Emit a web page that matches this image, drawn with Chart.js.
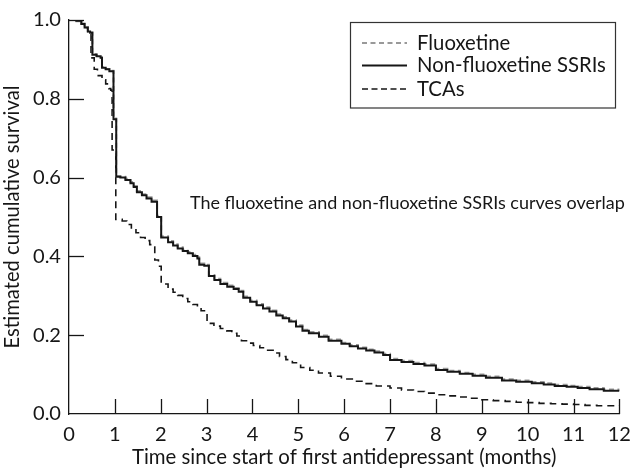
<!DOCTYPE html>
<html><head><meta charset="utf-8">
<script src="https://cdn.jsdelivr.net/npm/chart.js@4"></script>
<style>html,body{margin:0;padding:0;background:#fff;}canvas{display:block}</style>
</head><body>
<canvas id="c" width="640" height="472"></canvas>
<script>
const FAMILY = 'Lato, "Noto Sans", sans-serif';
const INK = '#161616';

const xTicks = [0,1,2,3,4,5,6,7,8,9,10,11,12];
const yTicks = [0.0,0.2,0.4,0.6,0.8,1.0];
const seriesNames = ['Fluoxetine','Non-fluoxetine SSRIs','TCAs'];
const xTitle = 'Time since start of first antidepressant (months)';
const yTitle = 'Estimated cumulative survival';
const noteText = 'The fluoxetine and non-fluoxetine SSRIs curves overlap';

// [months, survival]
const ssriSteps = [[0,1.0],[0.16,0.998],[0.27,0.990],[0.34,0.981],[0.41,0.971],[0.46,0.968],[0.51,0.912],[0.60,0.908],[0.69,0.904],[0.72,0.879],[0.80,0.875],[0.88,0.870],[0.97,0.748],[1.03,0.602],[1.12,0.600],[1.23,0.594],[1.34,0.586],[1.41,0.576],[1.48,0.563],[1.59,0.555],[1.69,0.547],[1.80,0.539],[1.92,0.500],[2.01,0.448],[2.16,0.436],[2.27,0.428],[2.37,0.420],[2.48,0.414],[2.59,0.408],[2.70,0.401],[2.80,0.395],[2.84,0.379],[2.95,0.376],[3.05,0.350],[3.17,0.340],[3.30,0.330],[3.45,0.323],[3.59,0.317],[3.70,0.310],[3.80,0.295],[3.95,0.285],[4.09,0.276],[4.23,0.268],[4.37,0.260],[4.52,0.250],[4.66,0.243],[4.80,0.235],[4.95,0.222],[5.09,0.211],[5.23,0.205],[5.45,0.196],[5.66,0.186],[5.94,0.178],[6.12,0.172],[6.30,0.166],[6.48,0.161],[6.66,0.156],[6.85,0.150],[7.00,0.137],[7.25,0.132],[7.51,0.127],[7.75,0.123],[8.00,0.112],[8.25,0.107],[8.52,0.102],[8.80,0.097],[9.09,0.092],[9.44,0.085],[9.75,0.082],[10.09,0.078],[10.35,0.075],[10.59,0.071],[10.85,0.069],[11.09,0.066],[11.35,0.063],[11.66,0.059],[12.00,0.058]];

const fluoxSteps = [[0,1.0],[0.16,0.997],[0.27,0.991],[0.34,0.982],[0.41,0.972],[0.46,0.969],[0.51,0.914],[0.60,0.910],[0.69,0.905],[0.72,0.881],[0.80,0.876],[0.88,0.871],[0.97,0.750],[1.03,0.604],[1.12,0.602],[1.23,0.597],[1.34,0.589],[1.41,0.579],[1.48,0.566],[1.59,0.558],[1.69,0.550],[1.80,0.542],[1.92,0.503],[2.01,0.451],[2.16,0.439],[2.27,0.431],[2.37,0.423],[2.48,0.417],[2.59,0.411],[2.70,0.404],[2.80,0.398],[2.84,0.382],[2.95,0.379],[3.05,0.353],[3.17,0.343],[3.30,0.333],[3.45,0.326],[3.59,0.320],[3.70,0.313],[3.80,0.298],[3.95,0.288],[4.09,0.279],[4.23,0.271],[4.37,0.263],[4.52,0.253],[4.66,0.246],[4.80,0.238],[4.95,0.225],[5.09,0.214],[5.23,0.208],[5.45,0.199],[5.66,0.189],[5.94,0.181],[6.12,0.175],[6.30,0.169],[6.48,0.164],[6.66,0.159],[6.85,0.153],[7.00,0.140],[7.25,0.135],[7.51,0.130],[7.75,0.126],[8.00,0.115],[8.25,0.110],[8.52,0.105],[8.80,0.100],[9.09,0.095],[9.44,0.088],[9.75,0.085],[10.09,0.081],[10.35,0.078],[10.59,0.074],[10.85,0.072],[11.09,0.069],[11.35,0.066],[11.66,0.062],[12.00,0.061]];

const tcaSteps = [[0,1.0],[0.16,0.998],[0.27,0.990],[0.34,0.981],[0.41,0.971],[0.48,0.904],[0.55,0.875],[0.62,0.859],[0.72,0.848],[0.80,0.838],[0.87,0.826],[0.91,0.822],[0.94,0.670],[1.02,0.494],[1.16,0.490],[1.26,0.481],[1.36,0.470],[1.46,0.460],[1.56,0.448],[1.66,0.440],[1.76,0.430],[1.84,0.424],[1.87,0.391],[1.95,0.375],[2.01,0.330],[2.16,0.317],[2.27,0.309],[2.37,0.301],[2.48,0.293],[2.59,0.285],[2.70,0.278],[2.80,0.272],[2.88,0.262],[3.01,0.230],[3.16,0.223],[3.30,0.217],[3.44,0.211],[3.55,0.205],[3.66,0.198],[3.76,0.186],[3.90,0.180],[4.02,0.174],[4.16,0.168],[4.30,0.162],[4.45,0.155],[4.59,0.146],[4.73,0.138],[4.87,0.130],[5.05,0.118],[5.25,0.111],[5.44,0.104],[5.70,0.096],[5.94,0.089],[6.20,0.083],[6.44,0.077],[6.70,0.071],[7.00,0.066],[7.25,0.061],[7.51,0.057],[7.75,0.053],[8.00,0.049],[8.25,0.046],[8.52,0.043],[8.75,0.040],[9.00,0.036],[9.25,0.034],[9.51,0.032],[9.75,0.030],[10.00,0.029],[10.25,0.027],[10.51,0.026],[10.75,0.025],[11.00,0.024],[11.25,0.022],[11.51,0.021],[11.75,0.021],[12.00,0.020]];

const mctx = document.createElement('canvas').getContext('2d');
function fitSize(text, target){ mctx.font = '100px ' + FAMILY; return 100 * target / mctx.measureText(text).width; }

const tickSize = fitSize('0.0', 28);
const xTitleSize = fitSize(xTitle, 425);
const yTitleSize = fitSize(yTitle, 263);
const noteSize = fitSize(noteText, 435);
const legendSize = fitSize(seriesNames[1], 189);

const toPts = a => a.map(p => ({x: p[0], y: p[1]}));

const inwardTicks = {
  id: 'inwardTicks',
  afterDraw(chart){
    const {ctx, scales:{x, y}} = chart;
    ctx.save();
    ctx.strokeStyle = INK; ctx.lineWidth = 1.3;
    xTicks.forEach(v => { if (v === 0) return; const px = Math.round(x.getPixelForValue(v)) + 0.5;
      ctx.beginPath(); ctx.moveTo(px, y.bottom); ctx.lineTo(px, y.bottom - 15); ctx.stroke(); });
    yTicks.forEach(v => { if (v === 0) return; const py = Math.round(y.getPixelForValue(v)) + 0.5;
      ctx.beginPath(); ctx.moveTo(x.left, py); ctx.lineTo(x.left + 15, py); ctx.stroke(); });
    ctx.restore();
  }
};

const legendNote = {
  id: 'legendNote',
  afterDraw(chart){
    const ctx = chart.ctx;
    ctx.save();
    // legend box
    ctx.strokeStyle = '#333'; ctx.lineWidth = 1.2;
    ctx.strokeRect(350.5, 22.5, 265, 85.5);
    const rows = [
      {name: seriesNames[0], y: 43, color: '#999', dash: [5,3.5], w: 1.8},
      {name: seriesNames[1], y: 65.5, color: INK, dash: [], w: 2},
      {name: seriesNames[2], y: 89, color: INK, dash: [6,3.5], w: 1.6}
    ];
    ctx.font = legendSize + 'px ' + FAMILY;
    ctx.textBaseline = 'middle'; ctx.textAlign = 'left';
    rows.forEach(r => {
      ctx.strokeStyle = r.color; ctx.lineWidth = r.w; ctx.setLineDash(r.dash);
      ctx.beginPath(); ctx.moveTo(362, r.y); ctx.lineTo(407, r.y); ctx.stroke();
      ctx.fillStyle = INK; ctx.fillText(r.name, 417, r.y);
    });
    ctx.setLineDash([]);
    ctx.font = noteSize + 'px ' + FAMILY;
    ctx.textBaseline = 'alphabetic';
    ctx.fillText(noteText, 190, 209);
    ctx.restore();
  }
};

new Chart(document.getElementById('c'), {
  type: 'line',
  data: { datasets: [
    {label: seriesNames[1], data: toPts(ssriSteps), stepped: true, borderColor: INK, borderWidth: 2, pointRadius: 0, fill: false, order: 0},
    {label: seriesNames[0], data: toPts(fluoxSteps), stepped: true, borderColor: '#9a9a9a', borderDash: [5,3.5], borderWidth: 2, pointRadius: 0, fill: false, order: 1},
    {label: seriesNames[2], data: toPts(tcaSteps), stepped: true, borderColor: INK, borderDash: [7,5], borderWidth: 1.6, pointRadius: 0, fill: false, order: 2}
  ]},
  options: {
    responsive: false, animation: false, devicePixelRatio: 1,
    layout: {padding: {top: 7, right: 11, left: 0, bottom: 0}},
    plugins: {legend: {display: false}, tooltip: {enabled: false}},
    scales: {
      x: {
        type: 'linear', min: 0, max: 12,
        afterBuildTicks: s => { s.ticks = xTicks.map(v => ({value: v})); },
        ticks: {color: INK, font: {family: FAMILY, size: tickSize}, padding: 9, maxRotation: 0, autoSkip: false, callback: v => String(v)},
        grid: {display: true, drawOnChartArea: false, drawTicks: false},
        border: {display: true, color: INK, width: 1.3},
        title: {display: true, text: xTitle, color: INK, font: {family: FAMILY, size: xTitleSize}, padding: {top: 0, bottom: 2}},
        afterFit: s => { s.height = 58; }
      },
      y: {
        type: 'linear', min: 0, max: 1,
        afterBuildTicks: s => { s.ticks = yTicks.map(v => ({value: v})); },
        ticks: {color: INK, font: {family: FAMILY, size: tickSize}, padding: 8, callback: v => v.toFixed(1)},
        grid: {display: true, drawOnChartArea: false, drawTicks: false},
        border: {display: true, color: INK, width: 1.3},
        title: {display: true, text: yTitle, color: INK, font: {family: FAMILY, size: yTitleSize}, padding: {top: 0, bottom: 0}},
        afterFit: s => { s.width = 69; }
      }
    }
  },
  plugins: [inwardTicks, legendNote]
});
</script>
</body></html>
